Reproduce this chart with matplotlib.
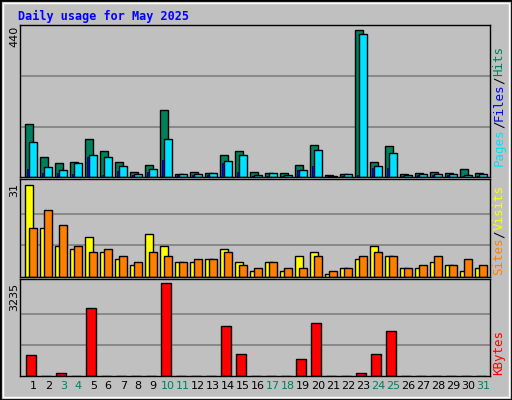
import numpy as np
import matplotlib.pyplot as plt
from matplotlib.patches import Rectangle

days = np.arange(1, 32)
weekend = [3, 4, 10, 11, 17, 18, 24, 25, 31]

hits = [155, 57, 42, 45, 110, 77, 45, 16, 36, 196, 10, 16, 13, 65, 77, 16,
        13, 13, 36, 94, 7, 10, 429, 45, 91, 10, 13, 16, 13, 24, 13]
pages = [103, 30, 21, 42, 65, 59, 33, 10, 24, 110, 10, 10, 13, 48, 65, 7,
         13, 7, 21, 80, 4, 10, 418, 33, 71, 7, 10, 10, 10, 7, 10]
files = [24, 13, 13, 10, 59, 7, 18, 7, 16, 50, 7, 7, 7, 42, 16, 4,
         4, 4, 21, 33, 4, 4, 7, 27, 27, 4, 7, 7, 7, 4, 4]
visits = [30, 16, 10, 9, 13, 8, 6, 4, 14, 10, 5, 5, 6, 9, 5, 2,
          5, 2, 7, 8, 1, 3, 6, 10, 7, 3, 3, 5, 4, 2, 3]
sites = [16, 22, 17, 10, 8, 9, 7, 5, 8, 7, 5, 6, 6, 8, 4, 3,
         5, 3, 3, 7, 2, 3, 7, 8, 7, 3, 4, 7, 4, 6, 4]
kbytes = [737, 0, 95, 0, 2379, 0, 0, 0, 0, 3235, 0, 0, 0, 1736, 773, 0,
          0, 0, 595, 1843, 0, 0, 95, 773, 1558, 0, 0, 0, 0, 0, 0]

W, H = 512, 400
BG = "#C0C0C0"
fig = plt.figure(figsize=(W / 100, H / 100), dpi=100, facecolor=BG)
fig.patches.append(Rectangle((0, 0), 1, 1, transform=fig.transFigure,
                             fill=False, edgecolor="black", lw=2))
fig.patches.append(Rectangle((3 / W, 3 / H), 1 - 6 / W, 1 - 6 / H, transform=fig.transFigure,
                             fill=False, edgecolor="white", lw=1))


def panel(y0, y1):
    ax = fig.add_axes([20 / W, 1 - y1 / H, 470 / W, (y1 - y0) / H])
    ax.set_facecolor(BG)
    ax.set_xlim(0.12, 31.45)
    ax.set_xticks([])
    ax.set_yticks([])
    for s in ax.spines.values():
        s.set_color("black")
        s.set_linewidth(1)
    return ax


def grid(ax, top):
    for f in (1 / 3, 2 / 3):
        ax.axhline(top * f, color="#808080", lw=1.2, zorder=0)


kw = dict(align="edge", edgecolor="black", linewidth=1)

# top: hits / pages / files
ax1 = panel(25, 177)
ax1.set_ylim(0, 440 * 152 / 151)
grid(ax1, 440)
ax1.bar(days - 0.55, hits, width=0.51, color="#00805C", **kw)
ax1.bar(days - 0.28, pages, width=0.51, color="#00E0FF", **kw)
ax1.bar(days - 0.42, files, width=0.13, color="#0000FF", edgecolor="black", linewidth=0.5, align="edge")

# middle: visits / sites
ax2 = panel(179, 277)
ax2.set_ylim(0, 31 * 98 / 95)
grid(ax2, 31)
ax2.bar(days - 0.55, visits, width=0.55, color="#FFFF00", **kw)
ax2.bar(days - 0.28, sites, width=0.51, color="#FF8000", **kw)

# bottom: kbytes
ax3 = panel(279, 376)
ax3.set_ylim(0, 3235 * 97 / 93)
grid(ax3, 3235)
ax3.bar(days - 0.48, kbytes, width=0.68, color="#FF0000", **kw)

for d in days:
    ax3.text(d, -0.1, str(d), transform=ax3.get_xaxis_transform(), ha="center", va="center",
             fontsize=8, color="#00805C" if d in weekend else "black")

# max labels on the left
for ytop, lab in [(26, "440"), (183, "31"), (283, "3235")]:
    fig.text(14 / W, 1 - ytop / H, lab, rotation=90, ha="center", va="top", fontsize=8)

fig.text(18 / W, 1 - 16 / H, "Daily usage for May 2025", color="#0000FF",
         family="DejaVu Sans Mono", fontweight="bold", fontsize=8.5, va="center")


def side(parts, ybottom):
    y = ybottom
    for txt, col in parts:
        fig.text(499 / W, 1 - y / H, txt, rotation=90, ha="center", va="bottom",
                 color=col, family="DejaVu Sans Mono", fontsize=9)
        y -= 7.5 * len(txt)


side([("Pages", "#00E0FF"), ("/", "black"), ("Files", "#0000FF"),
      ("/", "black"), ("Hits", "#00805C")], 166)
side([("Sites", "#FF8000"), ("/", "black"), ("Visits", "#FFFF00")], 275)
side([("KBytes", "#FF0000")], 375)

fig.savefig("out.png", dpi=100, facecolor=BG)
